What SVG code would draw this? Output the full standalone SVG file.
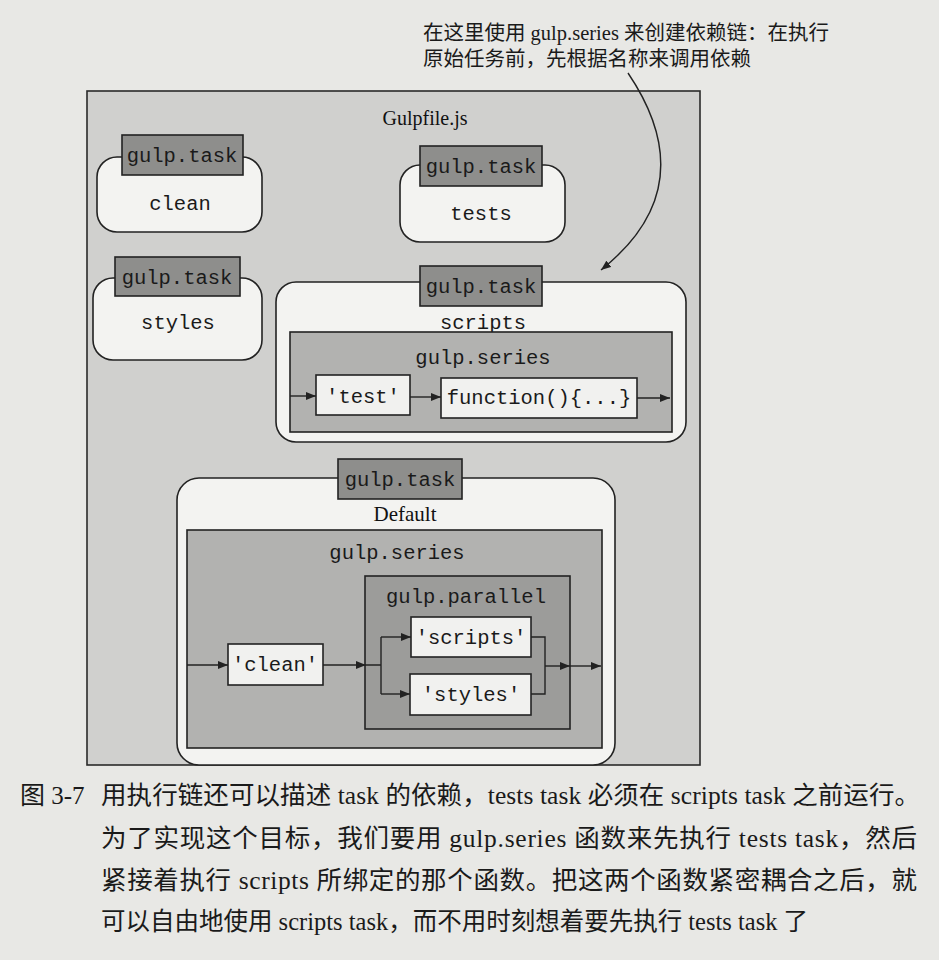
<svg xmlns="http://www.w3.org/2000/svg" width="939" height="960" viewBox="0 0 939 960">
<defs>
<style>
.page{fill:#e8e8e5}
.outer{fill:#d0d0ce;stroke:#2a2a2a;stroke-width:1.6}
.task{fill:#f3f3f1;stroke:#222;stroke-width:1.6}
.tab{fill:#8e8e8c;stroke:#222;stroke-width:1.6}
.series{fill:#b2b2b0;stroke:#222;stroke-width:1.6}
.par{fill:#9c9c9a;stroke:#222;stroke-width:1.6}
.code{fill:#f1f1ef;stroke:#222;stroke-width:1.6}
.mono{font-family:"Liberation Mono","DejaVu Sans Mono",monospace;font-size:20.5px;fill:#1a1a1a;text-anchor:middle}
.serif{font-family:"Liberation Serif","Noto Sans CJK SC",serif;fill:#111;text-anchor:middle}
.cjk{font-family:"Liberation Serif","Noto Sans CJK SC",serif;fill:#1a1a1a}
.line{fill:none;stroke:#222;stroke-width:1.4}
</style>
<marker id="ah" markerUnits="userSpaceOnUse" markerWidth="10" markerHeight="8" refX="10" refY="4" orient="auto">
<path d="M0,0 L10,4 L0,8 z" fill="#222"/>
</marker>
</defs>
<rect class="page" x="0" y="0" width="939" height="960"/>

<g id="annotation">
<text class="cjk" x="423" y="40" font-size="20.5">在这里使用 gulp.series 来创建依赖链：在执行</text>
<text class="cjk" x="423" y="66" font-size="20.5">原始任务前，先根据名称来调用依赖</text>
</g>

<g id="gulpfile">
<rect class="outer" x="87" y="91" width="613" height="674"/>
<text class="serif" x="425" y="125" font-size="20">Gulpfile.js</text>
</g>

<g id="task-clean">
<rect class="task" x="97" y="157" width="165" height="75" rx="20"/>
<rect class="tab" x="122" y="135" width="121" height="40"/>
<text class="mono" x="182" y="162">gulp.task</text>
<text class="mono" x="180" y="210">clean</text>
</g>

<g id="task-tests">
<rect class="task" x="400" y="165" width="165" height="77" rx="20"/>
<rect class="tab" x="420" y="146" width="122" height="40"/>
<text class="mono" x="481" y="173">gulp.task</text>
<text class="mono" x="481" y="220">tests</text>
</g>

<g id="task-styles">
<rect class="task" x="93" y="278" width="169" height="82" rx="20"/>
<rect class="tab" x="115" y="257" width="125" height="39"/>
<text class="mono" x="177" y="284">gulp.task</text>
<text class="mono" x="178" y="329">styles</text>
</g>

<g id="task-scripts">
<rect class="task" x="276" y="282" width="410" height="160" rx="20"/>
<rect class="tab" x="420" y="266" width="122" height="40"/>
<text class="mono" x="481" y="293">gulp.task</text>
<text class="mono" x="483" y="329">scripts</text>
<rect class="series" x="290" y="332" width="382" height="100"/>
<text class="mono" x="483" y="364">gulp.series</text>
</g>

<g id="node-test">
<rect class="code" x="316" y="375" width="94" height="40"/>
<text class="mono" x="363" y="403">'test'</text>
</g>

<g id="node-function">
<rect class="code" x="441" y="378" width="196" height="40"/>
<text class="mono" x="539" y="404">function(){...}</text>
</g>

<g id="task-default">
<rect class="task" x="177" y="478" width="438" height="287" rx="22"/>
<rect class="tab" x="338" y="459" width="124" height="40"/>
<text class="mono" x="400" y="486">gulp.task</text>
<text class="serif" x="405" y="521" font-size="21">Default</text>
<rect class="series" x="187" y="530" width="415" height="218"/>
<text class="mono" x="397" y="559">gulp.series</text>
<rect class="par" x="365" y="576" width="205" height="153"/>
<text class="mono" x="466" y="603">gulp.parallel</text>
</g>

<g id="node-clean">
<rect class="code" x="228" y="644" width="95" height="41"/>
<text class="mono" x="275" y="671">'clean'</text>
</g>

<g id="node-scripts">
<rect class="code" x="411" y="617" width="120" height="40"/>
<text class="mono" x="471" y="644">'scripts'</text>
</g>

<g id="node-styles">
<rect class="code" x="410" y="674" width="121" height="41"/>
<text class="mono" x="471" y="701">'styles'</text>
</g>

<g id="connectors">
<path class="line" d="M628,73 C680,150 670,215 601,270" marker-end="url(#ah)"/>
<line class="line" x1="290" y1="396" x2="316" y2="396" marker-end="url(#ah)"/>
<line class="line" x1="410" y1="397" x2="441" y2="397" marker-end="url(#ah)"/>
<line class="line" x1="637" y1="398" x2="670" y2="398" marker-end="url(#ah)"/>
<line class="line" x1="187" y1="665" x2="228" y2="665" marker-end="url(#ah)"/>
<line class="line" x1="323" y1="665" x2="366" y2="665" marker-end="url(#ah)"/>
<path class="line" d="M366,665 H381 M381,637 V694"/>
<line class="line" x1="381" y1="637" x2="411" y2="637" marker-end="url(#ah)"/>
<line class="line" x1="381" y1="694" x2="410" y2="694" marker-end="url(#ah)"/>
<path class="line" d="M531,637 H545 V694 H531"/>
<line class="line" x1="545" y1="666" x2="570" y2="666" marker-end="url(#ah)"/>
<line class="line" x1="570" y1="666" x2="601" y2="666" marker-end="url(#ah)"/>
</g>

<g id="caption">
<text class="cjk" x="20" y="804" font-size="25">图 3-7</text>
<text class="cjk" x="101" y="804" font-size="25.5" textLength="819" lengthAdjust="spacing">用执行链还可以描述 task 的依赖，tests task 必须在 scripts task 之前运行。</text>
<text class="cjk" x="101" y="847" font-size="25.5" textLength="816" lengthAdjust="spacing">为了实现这个目标，我们要用 gulp.series 函数来先执行 tests task，然后</text>
<text class="cjk" x="101" y="889" font-size="25.5" textLength="816" lengthAdjust="spacing">紧接着执行 scripts 所绑定的那个函数。把这两个函数紧密耦合之后，就</text>
<text class="cjk" x="101" y="930" font-size="24.5">可以自由地使用 scripts task，而不用时刻想着要先执行 tests task 了</text>
</g>
</svg>
